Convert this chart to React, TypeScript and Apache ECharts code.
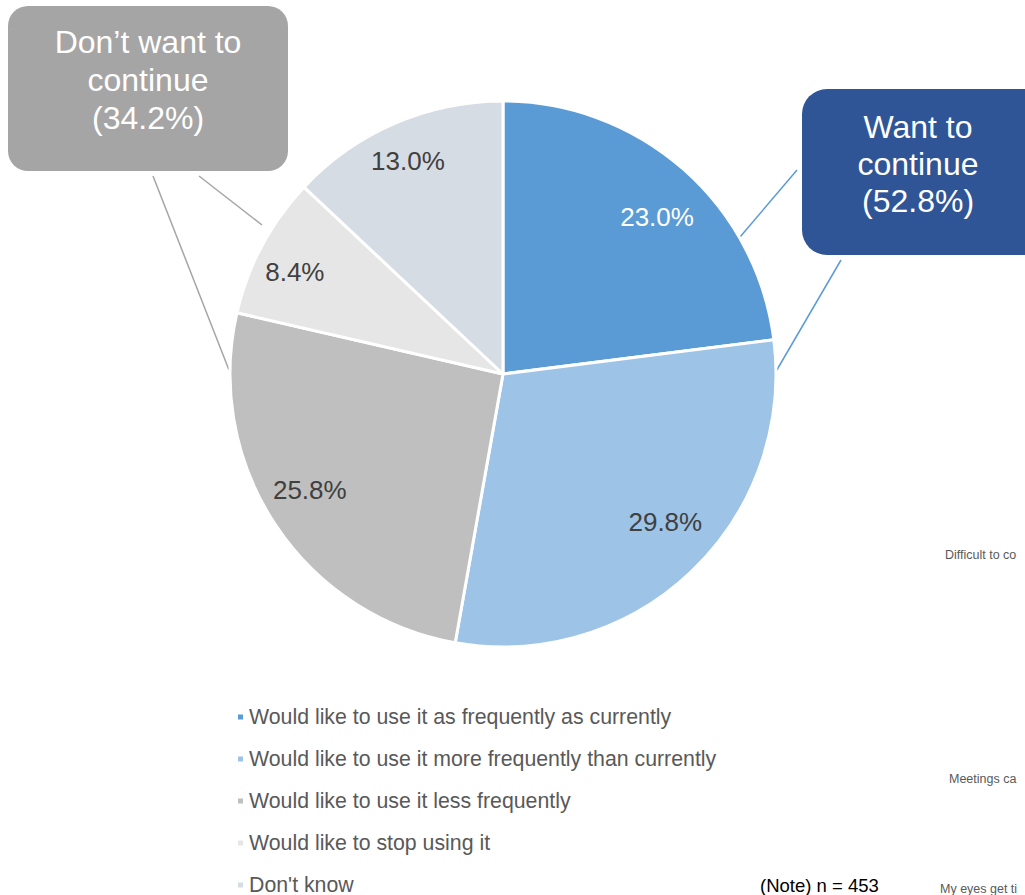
import React, { useEffect, useRef } from "react";
import * as echarts from "echarts";

const categories = [
  "Would like to use it as frequently as currently",
  "Would like to use it more frequently than currently",
  "Would like to use it less frequently",
  "Would like to stop using it",
  "Don't know",
];
const values = [23.0, 29.8, 25.8, 8.4, 13.0];
const colors = ["#5B9BD5", "#9DC3E6", "#BFBFBF", "#E7E6E6", "#D6DCE4"];
const labelColors = ["#FFFFFF", "#404040", "#404040", "#404040", "#404040"];
const labelOffsets = [[4, 13], [6, -16], [-4, -9], [-8, 5], [-5, -5]];
const groupLabels = ["Don\u2019t want to\ncontinue\n(34.2%)", "Want to\ncontinue\n(52.8%)"];
const noteText = "(Note) n = 453";
const sideTexts = ["Difficult to co", "Meetings ca", "My eyes get ti"];

const FONT = "'Liberation Sans', Arial, sans-serif";

export default function App() {
  const ref = useRef<HTMLDivElement>(null);
  useEffect(() => {
    document.body.style.margin = "0";
    const chart = echarts.init(ref.current!, null, { renderer: "svg" });
    const cx = 503;
    const cy = 374;
    const R = 273;
    chart.setOption({
      animation: false,
      backgroundColor: "#FFFFFF",
      textStyle: { fontFamily: FONT },
      legend: {
        orient: "vertical",
        left: 236,
        top: 706,
        height: 260,
        padding: 0,
        itemWidth: 7,
        itemHeight: 7,
        itemGap: 20,
        itemTextGap: 5,
        icon: "rect",
        selectedMode: false,
        data: categories.map((c, i) => ({ name: c, itemStyle: { color: colors[i] } })),
        textStyle: { fontSize: 21.3, color: "#595959", fontFamily: FONT, lineHeight: 22 },
      },
      series: [
        {
          type: "pie",
          name: "main",
          center: [cx, cy],
          radius: [0, R],
          startAngle: 90,
          clockwise: true,
          silent: true,
          label: { show: false },
          labelLine: { show: false },
          itemStyle: { borderColor: "#FFFFFF", borderWidth: 3 },
          data: categories.map((c, i) => ({
            name: c,
            value: values[i],
            itemStyle: { color: colors[i] },
          })),
        },
        {
          type: "pie",
          name: "labels",
          center: [cx, cy],
          radius: [R * 0.64, R],
          startAngle: 90,
          clockwise: true,
          silent: true,
          itemStyle: { color: "rgba(0,0,0,0)", borderWidth: 0 },
          label: {
            show: true,
            position: "inside",
            fontSize: 26,
            fontFamily: FONT,
            formatter: (p: any) => p.value.toFixed(1) + "%",
          },
          labelLine: { show: false },
          data: categories.map((c, i) => ({
            name: c,
            value: values[i],
            label: { color: labelColors[i], offset: labelOffsets[i] },
          })),
        },
      ],
      graphic: [
        { type: "line", shape: { x1: 153, y1: 176, x2: 229, y2: 370 }, style: { stroke: "#A5A5A5", lineWidth: 1.5 } },
        { type: "line", shape: { x1: 199, y1: 176, x2: 262, y2: 225 }, style: { stroke: "#A5A5A5", lineWidth: 1.5 } },
        { type: "line", shape: { x1: 797, y1: 170, x2: 740, y2: 237 }, style: { stroke: "#5B9BD5", lineWidth: 1.5 } },
        { type: "line", shape: { x1: 841, y1: 260, x2: 771, y2: 380 }, style: { stroke: "#5B9BD5", lineWidth: 1.5 } },
        { type: "rect", shape: { x: 8, y: 6, width: 280, height: 165, r: 20 }, style: { fill: "#A5A5A5" } },
        { type: "rect", shape: { x: 802, y: 89, width: 250, height: 166, r: 25 }, style: { fill: "#2F5597" } },
        {
          type: "text",
          x: 148,
          y: 80,
          style: { text: groupLabels[0], fontSize: 32, lineHeight: 38, fill: "#FFFFFF", fontFamily: FONT, align: "center", verticalAlign: "middle" },
        },
        {
          type: "text",
          x: 918,
          y: 164,
          style: { text: groupLabels[1], fontSize: 32, lineHeight: 37, fill: "#FFFFFF", fontFamily: FONT, align: "center", verticalAlign: "middle" },
        },
        {
          type: "text",
          x: 760,
          y: 885,
          style: { text: noteText, fontSize: 18.5, fill: "#000000", fontFamily: FONT, align: "left", verticalAlign: "middle" },
        },
        {
          type: "text",
          x: 945,
          y: 555,
          style: { text: sideTexts[0], fontSize: 12.5, fill: "#595959", fontFamily: FONT, align: "left", verticalAlign: "middle" },
        },
        {
          type: "text",
          x: 949,
          y: 779,
          style: { text: sideTexts[1], fontSize: 12.5, fill: "#595959", fontFamily: FONT, align: "left", verticalAlign: "middle" },
        },
        {
          type: "text",
          x: 940,
          y: 889,
          style: { text: sideTexts[2], fontSize: 12.5, fill: "#595959", fontFamily: FONT, align: "left", verticalAlign: "middle" },
        },
      ],
    });
    return () => chart.dispose();
  }, []);
  return <div ref={ref} style={{ width: 1025, height: 895 }} />;
}
